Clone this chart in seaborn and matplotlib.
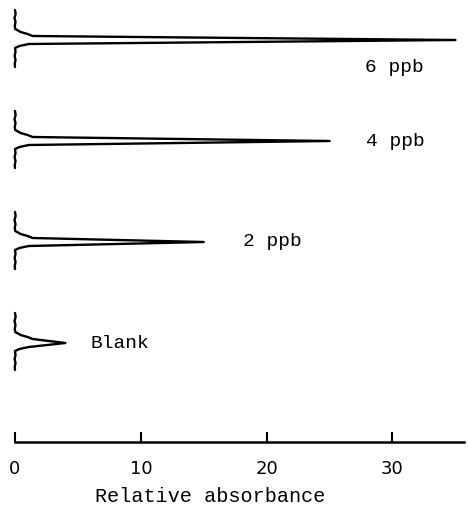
import matplotlib
matplotlib.use("Agg")
import matplotlib.pyplot as plt
import seaborn as sns
import pandas as pd

# peak traces: sample name and peak relative absorbance
samples = ["6 ppb", "4 ppb", "2 ppb", "Blank"]
peak_abs = [35.0, 25.0, 15.0, 4.0]

# recorder trace shape around each peak (time offset vs absorbance), tip replaced by peak
trace_time = [-30, -26, -22, -18, -14, -11, -8, -6, -4, 0, 4, 6, 8, 12, 16, 20, 24, 27]
trace_abs = [0.0, 0.05, -0.04, 0.04, -0.02, 0.02, 0.45, 1.0, 1.4, None, 1.1, 0.35, 0.0, 0.04, -0.03, 0.04, -0.02, 0.0]

# x axis
x_ticks = [0, 10, 20, 30]
x_label = "Relative absorbance"

# text labels beside each trace (x in absorbance, y as time offset from the tip)
label_pos = [(27.8, 27), (27.9, 1), (18.1, -1), (6.0, 0)]


def build_traces():
    rows = []
    for i, (name, peak) in enumerate(zip(samples, peak_abs)):
        base = 40 + i * 101
        for order, (t, a) in enumerate(zip(trace_time, trace_abs)):
            rows.append({"sample": name, "order": order,
                         "absorbance": peak if a is None else a,
                         "time": base + t})
    return pd.DataFrame(rows)


sns.set_style("white")
fig = plt.figure(figsize=(4.68, 5.19), dpi=100)
ax = fig.add_axes([15 / 468, 77 / 519, 1 - 15 / 468, 1 - 77 / 519])

df = build_traces()
sns.lineplot(data=df, x="absorbance", y="time", units="sample", estimator=None,
             sort=False, color="black", linewidth=1.7, ax=ax, legend=False)
for line in ax.get_lines():
    line.set_clip_on(False)
    line.set_solid_joinstyle("round")

mono = "Liberation Mono"
for i, (name, (lx, ly)) in enumerate(zip(samples, label_pos)):
    ax.text(lx, 40 + i * 101 + ly, name, fontsize=14, family=mono,
            ha="left", va="center", color="black")

ax.set_xlim(0, 36)
ax.set_ylim(442, 0)
ax.set_xticks(x_ticks)
ax.set_xticklabels([str(t) for t in x_ticks], fontsize=13, family="DejaVu Sans")
ax.tick_params(axis="x", bottom=True, direction="in", length=7, width=1.5,
               pad=13, color="black", labelcolor="black")
ax.set_yticks([])
ax.set_ylabel("")
ax.set_xlabel(x_label, fontsize=14.5, family=mono, va="center", color="black")
ax.xaxis.set_label_coords((210 - 15) / 453, -(497 - 442) / 442)

for side in ["top", "right", "left"]:
    ax.spines[side].set_visible(False)
ax.spines["bottom"].set_linewidth(1.8)
ax.spines["bottom"].set_color("black")
ax.spines["bottom"].set_bounds(0, 35.7)
ax.patch.set_alpha(0)

fig.savefig("out.png", dpi=100)
